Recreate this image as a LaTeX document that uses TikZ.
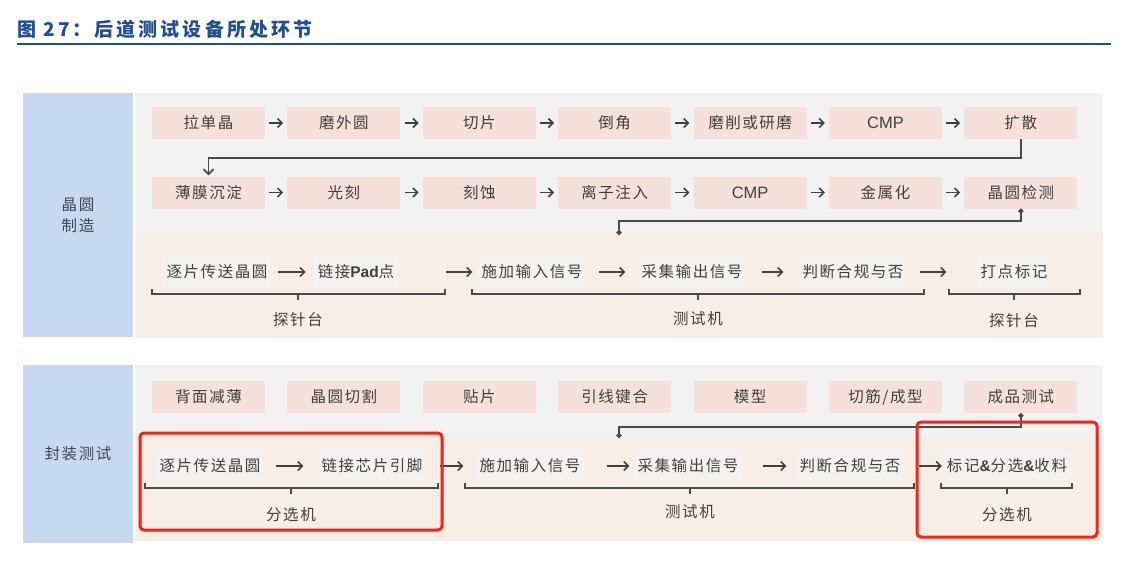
\documentclass[tikz,border=0pt]{standalone}
\usepackage{fontspec}
\usepackage{tikz}
\usetikzlibrary{arrows.meta,calc,positioning}
\newfontfamily\cjk[LetterSpace=10]{Noto Sans CJK SC}
\newfontfamily\cjktitle[LetterSpace=16]{Noto Sans CJK SC}
\newfontfamily\latin{Liberation Sans}
\definecolor{SideBlue}{HTML}{C6D9F0}
\definecolor{SideInk}{HTML}{3F4756}
\definecolor{PanelGray}{HTML}{F2F2F2}
\definecolor{PanelBeige}{HTML}{F7EFE6}
\definecolor{PinkBox}{HTML}{F5E0DA}
\definecolor{FaintBox}{HTML}{F4F2F0}
\definecolor{InkGray}{HTML}{404040}
\definecolor{LineGray}{HTML}{4A4A4A}
\definecolor{MarkRed}{HTML}{FF1E0F}
\definecolor{TitleBlue}{HTML}{1F4E96}

\begin{document}
\begin{tikzpicture}[x=1pt,y=-1pt,node distance=22pt,
    txt/.style={font=\cjk\fontsize{15.5}{21}\selectfont,text=InkGray},
    pbox/.style={txt,fill=PinkBox,minimum width=113pt,minimum height=32pt,inner sep=0pt},
    tbox/.style={txt,fill=FaintBox,minimum height=32pt,inner xsep=4pt},
    side/.style={txt,fill=SideBlue,text=SideInk,minimum width=110pt,align=center},
    arr/.style={-{Straight Barb[length=4.5pt,width=9pt]},line width=1.6pt,InkGray,shorten <=4pt,shorten >=4pt},
    conn/.style={line width=1.8pt,LineGray},
    brk/.style={line width=1.6pt,LineGray},
    redframe/.style={draw=MarkRed,line width=3pt,rounded corners=4pt}]
    \useasboundingbox (0,0) rectangle (1132,560);
    \node[anchor=west,inner sep=0pt,font=\cjktitle\bfseries\fontsize{19}{21}\selectfont,text=TitleBlue] (title) at (17,29) {图 27：后道测试设备所处环节};
    \draw[TitleBlue,line width=2pt] (17,44) -- (1111,44);
    \fill[PanelGray] (135,93) rectangle (1103,233);
    \fill[PanelBeige] (135,233) rectangle (1103,338);
    \fill[PanelGray] (135,365) rectangle (1103,436);
    \fill[PanelBeige] (135,436) rectangle (1103,541);
    \node[side,minimum height=244pt] (wafer) at (78,215) {晶圆\\制造};
    \node[side,minimum height=178pt] (pack) at (78,454) {封装测试};

    \node[pbox] (ra1) at (208.5,123) {拉单晶};
    \node[pbox,right=of ra1] (ra2) {磨外圆};
    \node[pbox,right=of ra2] (ra3) {切片};
    \node[pbox,right=of ra3] (ra4) {倒角};
    \node[pbox,right=of ra4] (ra5) {磨削或研磨};
    \node[pbox,right=of ra5] (ra6) {{\latin\fontsize{16.5}{20}\selectfont CMP}};
    \node[pbox,right=of ra6] (ra7) {扩散};
    \draw[arr] (ra1)--(ra2); \draw[arr] (ra2)--(ra3); \draw[arr] (ra3)--(ra4);
    \draw[arr] (ra4)--(ra5); \draw[arr] (ra5)--(ra6); \draw[arr] (ra6)--(ra7);
    \node[pbox] (rb1) at (208.5,192.5) {薄膜沉淀};
    \node[pbox,right=of rb1] (rb2) {光刻};
    \node[pbox,right=of rb2] (rb3) {刻蚀};
    \node[pbox,right=of rb3] (rb4) {离子注入};
    \node[pbox,right=of rb4] (rb5) {{\latin\fontsize{16.5}{20}\selectfont CMP}};
    \node[pbox,right=of rb5] (rb6) {金属化};
    \node[pbox,right=of rb6] (rb7) {晶圆检测};
    \draw[arr] (rb1)--(rb2); \draw[arr] (rb2)--(rb3); \draw[arr] (rb3)--(rb4);
    \draw[arr] (rb4)--(rb5); \draw[arr] (rb5)--(rb6); \draw[arr] (rb6)--(rb7);
    \draw[conn,-{Straight Barb[length=5pt,width=10pt]},shorten >=1pt] (ra7.south) -- ++(0,19) -| (rb1.north);
    \coordinate (ja) at (619,235);
    \draw[conn,{Circle[length=5pt]}-{Circle[length=5pt]}] (rb7.south) -- ++(0,12) -| (ja);

    \node[tbox] (ua) at (217,272) {逐片传送晶圆};
    \node[tbox] (ub) at (356,272) {链接{\latin\bfseries Pad}点};
    \node[tbox] (uc) at (532,272) {施加输入信号};
    \node[tbox] (ud) at (692,272) {采集输出信号};
    \node[tbox] (ue) at (853,272) {判断合规与否};
    \node[tbox] (uf) at (1014,272) {打点标记};
    \draw[arr,shorten <=6pt,shorten >=8pt] (ua)--(ub);
    \draw[arr,shorten <=48pt,shorten >=5pt] (ub)--(uc);
    \draw[arr,shorten <=12pt,shorten >=12pt] (uc)--(ud);
    \draw[arr,shorten <=15pt,shorten >=15pt] (ud)--(ue);
    \draw[arr,shorten <=12pt,shorten >=30pt] (ue)--(uf);
    \draw[brk] (152,289) -- (152,294) -- (445,294) -- (445,289); \draw[brk] (298,294) -- (298,300);
    \draw[brk] (472,289) -- (472,294) -- (924,294) -- (924,289); \draw[brk] (698,294) -- (698,300);
    \draw[brk] (949,289) -- (949,294) -- (1080,294) -- (1080,289); \draw[brk] (1014,294) -- (1014,300);
    \node[txt] (ta) at (298,320) {探针台};
    \node[txt] (tb) at (698,319) {测试机};
    \node[txt] (tc) at (1014,321) {探针台};

    \node[pbox] (pa1) at (208.5,397) {背面减薄};
    \node[pbox,right=of pa1] (pa2) {晶圆切割};
    \node[pbox,right=of pa2] (pa3) {贴片};
    \node[pbox,right=of pa3] (pa4) {引线键合};
    \node[pbox,right=of pa4] (pa5) {模型};
    \node[pbox,right=of pa5] (pa6) {切筋/成型};
    \node[pbox,right=of pa6] (pa7) {成品测试};
    \coordinate (jb) at (619,438);
    \draw[conn,{Circle[length=5pt]}-{Circle[length=5pt]}] (pa7.south) -- ++(0,14) -| (jb);

    \node[tbox] (la) at (210,466) {逐片传送晶圆};
    \node[tbox] (lb) at (372,466) {链接芯片引脚};
    \node[tbox] (lc) at (530,466) {施加输入信号};
    \node[tbox] (ld) at (688,466) {采集输出信号};
    \node[tbox] (le) at (850,466) {判断合规与否};
    \node[tbox] (lf) at (1007,466) {标记{\latin\bfseries\&}分选{\latin\bfseries\&}收料};
    \draw[arr,shorten <=11pt,shorten >=14pt] (la)--(lb);
    \draw[arr,shorten <=13pt,shorten >=12pt] (lb)--(lc);
    \draw[arr,shorten <=22pt,shorten >=4pt] (lc)--(ld);
    \draw[arr,shorten <=20pt,shorten >=9pt] (ld)--(le);
    \draw[arr,shorten <=14pt,shorten >=1pt] (le)--(lf);
    \draw[brk] (145,483) -- (145,488) -- (438,488) -- (438,483); \draw[brk] (291,488) -- (291,494);
    \draw[brk] (465,483) -- (465,488) -- (914,488) -- (914,483); \draw[brk] (690,488) -- (690,494);
    \draw[brk] (941,483) -- (941,488) -- (1072,488) -- (1072,483); \draw[brk] (1007,488) -- (1007,494);
    \node[txt] (sa) at (291,515) {分选机};
    \node[txt] (sb) at (690,512) {测试机};
    \node[txt] (sc) at (1007,515) {分选机};
    \draw[redframe] (140,433) rectangle (442,530);
    \draw[redframe] (917,422) rectangle (1097,537);
  \end{tikzpicture}
\end{document}
